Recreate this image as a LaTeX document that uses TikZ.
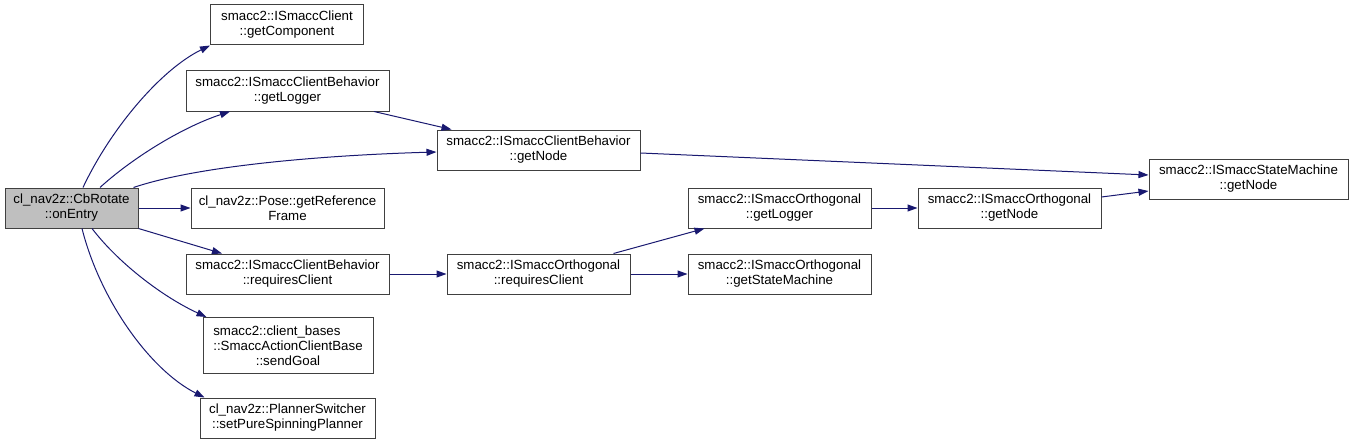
\documentclass[tikz,border=0pt]{standalone}
\usepackage{fontspec}
\setmainfont{Liberation Sans}
\usetikzlibrary{arrows.meta}
\definecolor{edgeblue}{HTML}{191970}
\begin{document}
\begin{tikzpicture}[
    x=1pt, y=-1pt,
    every node/.style={draw=black!75, line width=1pt, align=center, inner sep=0pt,
        font=\fontsize{13.3}{15}\selectfont, minimum height=40pt},
    callee/.style={fill=white},
    caller/.style={fill=black!25},
    calls/.style={draw=edgeblue, line width=1pt, -{Triangle[length=10pt,width=7pt]}}
]
\useasboundingbox (0,0) rectangle (1353,444);
% first column
\node[caller, minimum width=133pt] (onentry) at (71.5,208) {cl\_nav2z::CbRotate\\::onEntry};
% second column
\node[callee, minimum width=153pt] (getcomp) at (287,25) {smacc2::ISmaccClient\\::getComponent};
\node[callee, minimum width=203pt] (cblogger) at (287.5,91) {smacc2::ISmaccClientBehavior\\::getLogger};
\node[callee, minimum width=193pt] (refframe) at (287.5,208) {cl\_nav2z::Pose::getReference\\Frame};
\node[callee, minimum width=203pt] (cbreq) at (287.5,274) {smacc2::ISmaccClientBehavior\\::requiresClient};
\node[callee, minimum width=170pt, minimum height=56pt] (sendgoal) at (288,345.5)
    {\rlap{smacc2::client\_bases}\hphantom{::SmaccActionClientBase}\\::SmaccActionClientBase\\::sendGoal};
\node[callee, minimum width=175pt] (spinning) at (287.5,418) {cl\_nav2z::PlannerSwitcher\\::setPureSpinningPlanner};
% third column
\node[callee, minimum width=203pt] (cbnode) at (538.5,150) {smacc2::ISmaccClientBehavior\\::getNode};
\node[callee, minimum width=183pt] (orthreq) at (538.5,274) {smacc2::ISmaccOrthogonal\\::requiresClient};
% fourth column
\node[callee, minimum width=183pt] (orthlogger) at (779.5,208) {smacc2::ISmaccOrthogonal\\::getLogger};
\node[callee, minimum width=183pt] (orthsm) at (779.5,274) {smacc2::ISmaccOrthogonal\\::getStateMachine};
% last columns
\node[callee, minimum width=183pt] (orthnode) at (1009.5,208) {smacc2::ISmaccOrthogonal\\::getNode};
\node[callee, minimum width=199pt] (smnode) at (1248.5,179) {smacc2::ISmaccStateMachine\\::getNode};

% calls from onEntry
\draw[calls] ([xshift=11.5pt]onentry.north) .. controls (110,130) and (160,70) .. (getcomp.south west);
\draw[calls] ([xshift=28.5pt]onentry.north) .. controls (130,160) and (180,128) .. ([xshift=-57.5pt]cblogger.south);
\draw[calls] ([xshift=-5pt]onentry.north east) .. controls (200,165) and (330,155) .. ([yshift=-2pt]cbnode.west);
\draw[calls] (onentry) -- (refframe);
\draw[calls] (onentry.south east) -- ([xshift=-65.5pt]cbreq.north);
\draw[calls] ([xshift=20.5pt]onentry.south) .. controls (120,265) and (165,298) .. ([xshift=4pt]sendgoal.north west);
\draw[calls] ([xshift=10.5pt]onentry.south) .. controls (100,300) and (150,370) .. ([xshift=5pt]spinning.north west);
% further calls
\draw[calls] ([xshift=-15.5pt]cblogger.south east) -- ([xshift=15pt]cbnode.north west);
\draw[calls] ([yshift=-3pt]cbnode.east) -- ([yshift=4pt]smnode.west);
\draw[calls] (cbreq) -- (orthreq);
\draw[calls] ([xshift=-17pt]orthreq.north east) -- ([xshift=17pt]orthlogger.south west);
\draw[calls] (orthreq) -- (orthsm);
\draw[calls] (orthlogger) -- (orthnode);
\draw[calls] ([yshift=11pt]orthnode.east) -- ([yshift=-12pt]smnode.west);
\end{tikzpicture}
\end{document}
